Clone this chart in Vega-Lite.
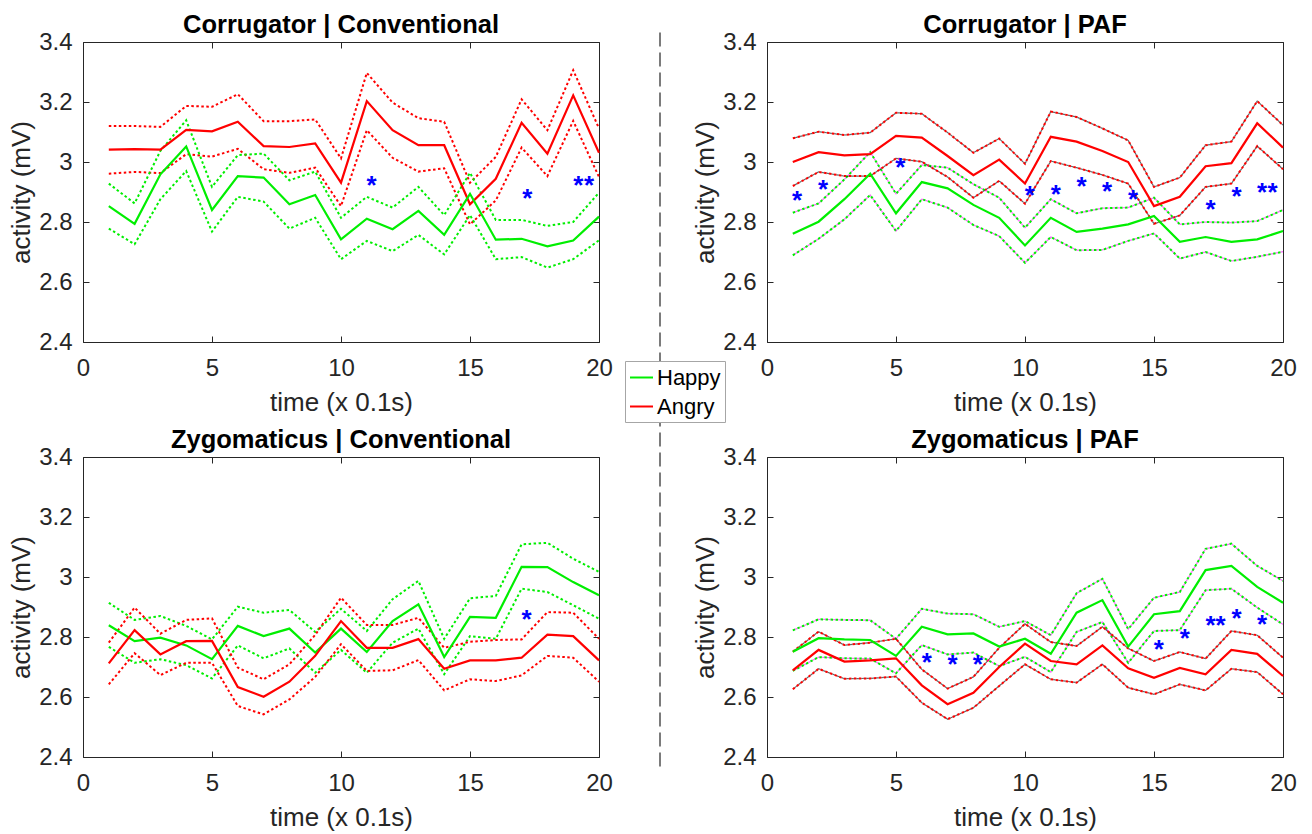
{
  "$schema": "https://vega.github.io/schema/vega-lite/v6.json",
  "padding": {"left": 8, "top": 12, "right": 5, "bottom": 5},
  "datasets": {
    "lines": [
      {"panel":"CC","group":"Angry","t":1,"mean":3.041,"upper":3.120,"lower":2.961},
      {"panel":"CC","group":"Angry","t":2,"mean":3.043,"upper":3.120,"lower":2.967},
      {"panel":"CC","group":"Angry","t":3,"mean":3.041,"upper":3.117,"lower":2.963},
      {"panel":"CC","group":"Angry","t":4,"mean":3.107,"upper":3.187,"lower":3.026},
      {"panel":"CC","group":"Angry","t":5,"mean":3.102,"upper":3.184,"lower":3.018},
      {"panel":"CC","group":"Angry","t":6,"mean":3.134,"upper":3.226,"lower":3.044},
      {"panel":"CC","group":"Angry","t":7,"mean":3.053,"upper":3.136,"lower":2.976},
      {"panel":"CC","group":"Angry","t":8,"mean":3.050,"upper":3.136,"lower":2.964},
      {"panel":"CC","group":"Angry","t":9,"mean":3.062,"upper":3.142,"lower":2.981},
      {"panel":"CC","group":"Angry","t":10,"mean":2.931,"upper":3.012,"lower":2.853},
      {"panel":"CC","group":"Angry","t":11,"mean":3.203,"upper":3.297,"lower":3.106},
      {"panel":"CC","group":"Angry","t":12,"mean":3.106,"upper":3.198,"lower":3.014},
      {"panel":"CC","group":"Angry","t":13,"mean":3.056,"upper":3.146,"lower":2.968},
      {"panel":"CC","group":"Angry","t":14,"mean":3.056,"upper":3.134,"lower":2.979},
      {"panel":"CC","group":"Angry","t":15,"mean":2.859,"upper":2.931,"lower":2.792},
      {"panel":"CC","group":"Angry","t":16,"mean":2.944,"upper":3.017,"lower":2.872},
      {"panel":"CC","group":"Angry","t":17,"mean":3.131,"upper":3.209,"lower":3.048},
      {"panel":"CC","group":"Angry","t":18,"mean":3.028,"upper":3.106,"lower":2.953},
      {"panel":"CC","group":"Angry","t":19,"mean":3.222,"upper":3.306,"lower":3.137},
      {"panel":"CC","group":"Angry","t":20,"mean":3.031,"upper":3.112,"lower":2.950},
      {"panel":"CC","group":"Happy","t":1,"mean":2.853,"upper":2.928,"lower":2.778},
      {"panel":"CC","group":"Happy","t":2,"mean":2.794,"upper":2.862,"lower":2.726},
      {"panel":"CC","group":"Happy","t":3,"mean":2.959,"upper":3.037,"lower":2.876},
      {"panel":"CC","group":"Happy","t":4,"mean":3.052,"upper":3.139,"lower":2.970},
      {"panel":"CC","group":"Happy","t":5,"mean":2.840,"upper":2.917,"lower":2.768},
      {"panel":"CC","group":"Happy","t":6,"mean":2.953,"upper":3.023,"lower":2.884},
      {"panel":"CC","group":"Happy","t":7,"mean":2.948,"upper":3.028,"lower":2.868},
      {"panel":"CC","group":"Happy","t":8,"mean":2.859,"upper":2.939,"lower":2.778},
      {"panel":"CC","group":"Happy","t":9,"mean":2.890,"upper":2.968,"lower":2.814},
      {"panel":"CC","group":"Happy","t":10,"mean":2.742,"upper":2.814,"lower":2.676},
      {"panel":"CC","group":"Happy","t":11,"mean":2.811,"upper":2.884,"lower":2.737},
      {"panel":"CC","group":"Happy","t":12,"mean":2.776,"upper":2.848,"lower":2.703},
      {"panel":"CC","group":"Happy","t":13,"mean":2.837,"upper":2.917,"lower":2.757},
      {"panel":"CC","group":"Happy","t":14,"mean":2.757,"upper":2.823,"lower":2.692},
      {"panel":"CC","group":"Happy","t":15,"mean":2.894,"upper":2.964,"lower":2.823},
      {"panel":"CC","group":"Happy","t":16,"mean":2.741,"upper":2.807,"lower":2.676},
      {"panel":"CC","group":"Happy","t":17,"mean":2.744,"upper":2.807,"lower":2.683},
      {"panel":"CC","group":"Happy","t":18,"mean":2.719,"upper":2.787,"lower":2.648},
      {"panel":"CC","group":"Happy","t":19,"mean":2.738,"upper":2.800,"lower":2.676},
      {"panel":"CC","group":"Happy","t":20,"mean":2.818,"upper":2.898,"lower":2.739},
      {"panel":"CP","group":"Angry","t":1,"mean":3.000,"upper":3.079,"lower":2.920},
      {"panel":"CP","group":"Angry","t":2,"mean":3.033,"upper":3.101,"lower":2.967},
      {"panel":"CP","group":"Angry","t":3,"mean":3.022,"upper":3.090,"lower":2.953},
      {"panel":"CP","group":"Angry","t":4,"mean":3.026,"upper":3.098,"lower":2.953},
      {"panel":"CP","group":"Angry","t":5,"mean":3.087,"upper":3.164,"lower":3.012},
      {"panel":"CP","group":"Angry","t":6,"mean":3.081,"upper":3.161,"lower":3.001},
      {"panel":"CP","group":"Angry","t":7,"mean":3.020,"upper":3.098,"lower":2.950},
      {"panel":"CP","group":"Angry","t":8,"mean":2.956,"upper":3.031,"lower":2.881},
      {"panel":"CP","group":"Angry","t":9,"mean":3.008,"upper":3.078,"lower":2.937},
      {"panel":"CP","group":"Angry","t":10,"mean":2.928,"upper":2.994,"lower":2.861},
      {"panel":"CP","group":"Angry","t":11,"mean":3.084,"upper":3.168,"lower":3.003},
      {"panel":"CP","group":"Angry","t":12,"mean":3.068,"upper":3.150,"lower":2.981},
      {"panel":"CP","group":"Angry","t":13,"mean":3.037,"upper":3.112,"lower":2.957},
      {"panel":"CP","group":"Angry","t":14,"mean":3.000,"upper":3.072,"lower":2.928},
      {"panel":"CP","group":"Angry","t":15,"mean":2.853,"upper":2.917,"lower":2.794},
      {"panel":"CP","group":"Angry","t":16,"mean":2.884,"upper":2.948,"lower":2.822},
      {"panel":"CP","group":"Angry","t":17,"mean":2.986,"upper":3.056,"lower":2.917},
      {"panel":"CP","group":"Angry","t":18,"mean":2.996,"upper":3.068,"lower":2.928},
      {"panel":"CP","group":"Angry","t":19,"mean":3.129,"upper":3.203,"lower":3.053},
      {"panel":"CP","group":"Angry","t":20,"mean":3.048,"upper":3.123,"lower":2.976},
      {"panel":"CP","group":"Happy","t":1,"mean":2.761,"upper":2.831,"lower":2.689},
      {"panel":"CP","group":"Happy","t":2,"mean":2.801,"upper":2.862,"lower":2.744},
      {"panel":"CP","group":"Happy","t":3,"mean":2.876,"upper":2.942,"lower":2.809},
      {"panel":"CP","group":"Happy","t":4,"mean":2.961,"upper":3.033,"lower":2.890},
      {"panel":"CP","group":"Happy","t":5,"mean":2.829,"upper":2.894,"lower":2.770},
      {"panel":"CP","group":"Happy","t":6,"mean":2.933,"upper":2.990,"lower":2.876},
      {"panel":"CP","group":"Happy","t":7,"mean":2.912,"upper":2.981,"lower":2.848},
      {"panel":"CP","group":"Happy","t":8,"mean":2.857,"upper":2.926,"lower":2.790},
      {"panel":"CP","group":"Happy","t":9,"mean":2.814,"upper":2.881,"lower":2.753},
      {"panel":"CP","group":"Happy","t":10,"mean":2.722,"upper":2.781,"lower":2.664},
      {"panel":"CP","group":"Happy","t":11,"mean":2.814,"upper":2.876,"lower":2.750},
      {"panel":"CP","group":"Happy","t":12,"mean":2.767,"upper":2.829,"lower":2.706},
      {"panel":"CP","group":"Happy","t":13,"mean":2.778,"upper":2.846,"lower":2.707},
      {"panel":"CP","group":"Happy","t":14,"mean":2.792,"upper":2.848,"lower":2.737},
      {"panel":"CP","group":"Happy","t":15,"mean":2.820,"upper":2.881,"lower":2.762},
      {"panel":"CP","group":"Happy","t":16,"mean":2.734,"upper":2.792,"lower":2.678},
      {"panel":"CP","group":"Happy","t":17,"mean":2.750,"upper":2.800,"lower":2.700},
      {"panel":"CP","group":"Happy","t":18,"mean":2.734,"upper":2.798,"lower":2.670},
      {"panel":"CP","group":"Happy","t":19,"mean":2.742,"upper":2.803,"lower":2.684},
      {"panel":"CP","group":"Happy","t":20,"mean":2.770,"upper":2.840,"lower":2.701},
      {"panel":"ZC","group":"Happy","t":1,"mean":2.839,"upper":2.914,"lower":2.767},
      {"panel":"ZC","group":"Happy","t":2,"mean":2.786,"upper":2.857,"lower":2.714},
      {"panel":"ZC","group":"Happy","t":3,"mean":2.798,"upper":2.870,"lower":2.726},
      {"panel":"ZC","group":"Happy","t":4,"mean":2.772,"upper":2.837,"lower":2.706},
      {"panel":"ZC","group":"Happy","t":5,"mean":2.726,"upper":2.792,"lower":2.662},
      {"panel":"ZC","group":"Happy","t":6,"mean":2.837,"upper":2.901,"lower":2.772},
      {"panel":"ZC","group":"Happy","t":7,"mean":2.803,"upper":2.881,"lower":2.729},
      {"panel":"ZC","group":"Happy","t":8,"mean":2.828,"upper":2.890,"lower":2.762},
      {"panel":"ZC","group":"Happy","t":9,"mean":2.748,"upper":2.817,"lower":2.681},
      {"panel":"ZC","group":"Happy","t":10,"mean":2.828,"upper":2.894,"lower":2.757},
      {"panel":"ZC","group":"Happy","t":11,"mean":2.750,"upper":2.820,"lower":2.681},
      {"panel":"ZC","group":"Happy","t":12,"mean":2.853,"upper":2.926,"lower":2.781},
      {"panel":"ZC","group":"Happy","t":13,"mean":2.909,"upper":2.987,"lower":2.828},
      {"panel":"ZC","group":"Happy","t":14,"mean":2.733,"upper":2.794,"lower":2.676},
      {"panel":"ZC","group":"Happy","t":15,"mean":2.867,"upper":2.929,"lower":2.803},
      {"panel":"ZC","group":"Happy","t":16,"mean":2.864,"upper":2.937,"lower":2.794},
      {"panel":"ZC","group":"Happy","t":17,"mean":3.034,"upper":3.109,"lower":2.961},
      {"panel":"ZC","group":"Happy","t":18,"mean":3.033,"upper":3.114,"lower":2.950},
      {"panel":"ZC","group":"Happy","t":19,"mean":2.983,"upper":3.061,"lower":2.906},
      {"panel":"ZC","group":"Happy","t":20,"mean":2.939,"upper":3.017,"lower":2.861},
      {"panel":"ZC","group":"Angry","t":1,"mean":2.712,"upper":2.781,"lower":2.642},
      {"panel":"ZC","group":"Angry","t":2,"mean":2.823,"upper":2.898,"lower":2.746},
      {"panel":"ZC","group":"Angry","t":3,"mean":2.742,"upper":2.811,"lower":2.673},
      {"panel":"ZC","group":"Angry","t":4,"mean":2.786,"upper":2.857,"lower":2.714},
      {"panel":"ZC","group":"Angry","t":5,"mean":2.787,"upper":2.862,"lower":2.714},
      {"panel":"ZC","group":"Angry","t":6,"mean":2.633,"upper":2.698,"lower":2.570},
      {"panel":"ZC","group":"Angry","t":7,"mean":2.601,"upper":2.659,"lower":2.542},
      {"panel":"ZC","group":"Angry","t":8,"mean":2.651,"upper":2.709,"lower":2.592},
      {"panel":"ZC","group":"Angry","t":9,"mean":2.737,"upper":2.807,"lower":2.667},
      {"panel":"ZC","group":"Angry","t":10,"mean":2.853,"upper":2.931,"lower":2.776},
      {"panel":"ZC","group":"Angry","t":11,"mean":2.764,"upper":2.840,"lower":2.687},
      {"panel":"ZC","group":"Angry","t":12,"mean":2.764,"upper":2.840,"lower":2.689},
      {"panel":"ZC","group":"Angry","t":13,"mean":2.793,"upper":2.864,"lower":2.723},
      {"panel":"ZC","group":"Angry","t":14,"mean":2.694,"upper":2.764,"lower":2.622},
      {"panel":"ZC","group":"Angry","t":15,"mean":2.722,"upper":2.784,"lower":2.659},
      {"panel":"ZC","group":"Angry","t":16,"mean":2.722,"upper":2.790,"lower":2.653},
      {"panel":"ZC","group":"Angry","t":17,"mean":2.731,"upper":2.792,"lower":2.672},
      {"panel":"ZC","group":"Angry","t":18,"mean":2.808,"upper":2.883,"lower":2.737},
      {"panel":"ZC","group":"Angry","t":19,"mean":2.803,"upper":2.881,"lower":2.731},
      {"panel":"ZC","group":"Angry","t":20,"mean":2.722,"upper":2.794,"lower":2.651},
      {"panel":"ZP","group":"Happy","t":1,"mean":2.751,"upper":2.822,"lower":2.687},
      {"panel":"ZP","group":"Happy","t":2,"mean":2.796,"upper":2.859,"lower":2.733},
      {"panel":"ZP","group":"Happy","t":3,"mean":2.792,"upper":2.857,"lower":2.729},
      {"panel":"ZP","group":"Happy","t":4,"mean":2.790,"upper":2.856,"lower":2.728},
      {"panel":"ZP","group":"Happy","t":5,"mean":2.737,"upper":2.794,"lower":2.679},
      {"panel":"ZP","group":"Happy","t":6,"mean":2.834,"upper":2.894,"lower":2.773},
      {"panel":"ZP","group":"Happy","t":7,"mean":2.809,"upper":2.878,"lower":2.742},
      {"panel":"ZP","group":"Happy","t":8,"mean":2.812,"upper":2.876,"lower":2.748},
      {"panel":"ZP","group":"Happy","t":9,"mean":2.768,"upper":2.834,"lower":2.703},
      {"panel":"ZP","group":"Happy","t":10,"mean":2.794,"upper":2.853,"lower":2.734},
      {"panel":"ZP","group":"Happy","t":11,"mean":2.744,"upper":2.806,"lower":2.683},
      {"panel":"ZP","group":"Happy","t":12,"mean":2.881,"upper":2.946,"lower":2.817},
      {"panel":"ZP","group":"Happy","t":13,"mean":2.923,"upper":2.994,"lower":2.850},
      {"panel":"ZP","group":"Happy","t":14,"mean":2.768,"upper":2.826,"lower":2.714},
      {"panel":"ZP","group":"Happy","t":15,"mean":2.876,"upper":2.931,"lower":2.820},
      {"panel":"ZP","group":"Happy","t":16,"mean":2.886,"upper":2.950,"lower":2.823},
      {"panel":"ZP","group":"Happy","t":17,"mean":3.023,"upper":3.094,"lower":2.956},
      {"panel":"ZP","group":"Happy","t":18,"mean":3.037,"upper":3.111,"lower":2.961},
      {"panel":"ZP","group":"Happy","t":19,"mean":2.967,"upper":3.037,"lower":2.898},
      {"panel":"ZP","group":"Happy","t":20,"mean":2.914,"upper":2.987,"lower":2.842},
      {"panel":"ZP","group":"Angry","t":1,"mean":2.689,"upper":2.751,"lower":2.626},
      {"panel":"ZP","group":"Angry","t":2,"mean":2.757,"upper":2.818,"lower":2.694},
      {"panel":"ZP","group":"Angry","t":3,"mean":2.718,"upper":2.773,"lower":2.661},
      {"panel":"ZP","group":"Angry","t":4,"mean":2.722,"upper":2.781,"lower":2.662},
      {"panel":"ZP","group":"Angry","t":5,"mean":2.729,"upper":2.794,"lower":2.668},
      {"panel":"ZP","group":"Angry","t":6,"mean":2.639,"upper":2.692,"lower":2.581},
      {"panel":"ZP","group":"Angry","t":7,"mean":2.576,"upper":2.628,"lower":2.526},
      {"panel":"ZP","group":"Angry","t":8,"mean":2.614,"upper":2.667,"lower":2.564},
      {"panel":"ZP","group":"Angry","t":9,"mean":2.700,"upper":2.764,"lower":2.637},
      {"panel":"ZP","group":"Angry","t":10,"mean":2.778,"upper":2.844,"lower":2.709},
      {"panel":"ZP","group":"Angry","t":11,"mean":2.720,"upper":2.783,"lower":2.659},
      {"panel":"ZP","group":"Angry","t":12,"mean":2.709,"upper":2.770,"lower":2.648},
      {"panel":"ZP","group":"Angry","t":13,"mean":2.772,"upper":2.834,"lower":2.709},
      {"panel":"ZP","group":"Angry","t":14,"mean":2.696,"upper":2.762,"lower":2.631},
      {"panel":"ZP","group":"Angry","t":15,"mean":2.664,"upper":2.720,"lower":2.609},
      {"panel":"ZP","group":"Angry","t":16,"mean":2.697,"upper":2.750,"lower":2.642},
      {"panel":"ZP","group":"Angry","t":17,"mean":2.676,"upper":2.728,"lower":2.622},
      {"panel":"ZP","group":"Angry","t":18,"mean":2.757,"upper":2.820,"lower":2.694},
      {"panel":"ZP","group":"Angry","t":19,"mean":2.744,"upper":2.806,"lower":2.683},
      {"panel":"ZP","group":"Angry","t":20,"mean":2.670,"upper":2.731,"lower":2.609}
    ],
    "stars": [
      {"panel":"CC","t":11.18,"v":2.944},
      {"panel":"CC","t":17.22,"v":2.900},
      {"panel":"CC","t":19.2,"v":2.942},
      {"panel":"CC","t":19.61,"v":2.942},
      {"panel":"CP","t":1.17,"v":2.894},
      {"panel":"CP","t":2.17,"v":2.931},
      {"panel":"CP","t":5.17,"v":3.003},
      {"panel":"CP","t":10.19,"v":2.911},
      {"panel":"CP","t":11.19,"v":2.914},
      {"panel":"CP","t":12.19,"v":2.940},
      {"panel":"CP","t":13.18,"v":2.922},
      {"panel":"CP","t":14.19,"v":2.896},
      {"panel":"CP","t":17.19,"v":2.862},
      {"panel":"CP","t":18.2,"v":2.906},
      {"panel":"CP","t":19.19,"v":2.920},
      {"panel":"CP","t":19.6,"v":2.920},
      {"panel":"ZC","t":17.19,"v":2.881},
      {"panel":"ZP","t":6.19,"v":2.737},
      {"panel":"ZP","t":7.19,"v":2.729},
      {"panel":"ZP","t":8.17,"v":2.729},
      {"panel":"ZP","t":15.19,"v":2.779},
      {"panel":"ZP","t":16.19,"v":2.818},
      {"panel":"ZP","t":17.19,"v":2.861},
      {"panel":"ZP","t":17.58,"v":2.861},
      {"panel":"ZP","t":18.2,"v":2.883},
      {"panel":"ZP","t":19.19,"v":2.863}
    ],
    "divider": [
      {"x": 0.3446, "top": 1.032, "bottom": -1.418}
    ]
  },
  "columns": 3,
  "bounds": "flush",
  "spacing": {"row": 115, "column": 10},
  "concat": [
    {
      "width": 516, "height": 300,
      "title": "Corrugator | Conventional",
      "resolve": {"axis": {"x": "independent", "y": "independent"}},
      "layer": [
        {
          "data": {"name": "lines"},
          "transform": [{"filter": "datum.panel === 'CC'"}, {"fold": ["upper", "lower"], "as": ["bound", "value"]}],
          "mark": {"type": "line", "strokeWidth": 2, "strokeDash": [2.5, 2.5]},
          "encoding": {
            "x": {"field": "t", "type": "quantitative", "scale": {"domain": [0, 20], "nice": false}, "axis": {"orient": "top", "values": [0, 5, 10, 15, 20], "tickSize": -6, "labels": false, "title": null, "minExtent": 0, "maxExtent": 0, "labelPadding": 0}},
            "y": {"field": "value", "type": "quantitative", "scale": {"domain": [2.4, 3.4], "nice": false, "zero": false}, "axis": {"orient": "right", "values": [2.4, 2.6, 2.8, 3, 3.2, 3.4], "tickSize": -6, "labels": false, "title": null, "minExtent": 0, "maxExtent": 0, "labelPadding": 0}},
            "color": {"field": "group", "type": "nominal", "title": null, "scale": {"domain": ["Happy", "Angry"], "range": ["#00ee00", "#ff0000"]}, "legend": {"orient": "none", "legendX": 542, "legendY": 319, "direction": "vertical"}},
            "detail": {"field": "bound"}
          }
        },
        {
          "data": {"name": "lines"},
          "transform": [{"filter": "datum.panel === 'CC'"}],
          "mark": {"type": "line", "strokeWidth": 2.2},
          "encoding": {
            "x": {"field": "t", "type": "quantitative", "axis": {"orient": "bottom", "values": [0, 5, 10, 15, 20], "tickSize": -6, "labelPadding": 20, "format": "~g", "title": "time (x 0.1s)", "titlePadding": 9}},
            "y": {"field": "mean", "type": "quantitative", "axis": {"orient": "left", "values": [2.4, 2.6, 2.8, 3, 3.2, 3.4], "tickSize": -6, "labelPadding": 17, "format": "~g", "title": "activity (mV)", "titlePadding": 4}},
            "color": {"field": "group", "type": "nominal", "title": null}
          }
        },
        {
          "data": {"name": "stars"},
          "transform": [{"filter": "datum.panel === 'CC'"}],
          "mark": {"type": "text", "text": "*", "color": "#0000ff", "fontSize": 26, "fontWeight": "bold", "font": "Liberation Sans", "baseline": "alphabetic", "dy": 15},
          "encoding": {
            "x": {"field": "t", "type": "quantitative", "axis": null},
            "y": {"field": "v", "type": "quantitative", "axis": null}
          }
        }
      ]
    },
    {
      "width": 148, "height": 300,
      "view": {"stroke": null},
      "data": {"name": "divider"},
      "mark": {"type": "rule", "clip": false, "strokeDash": [14, 6], "color": "#444444", "strokeWidth": 1.4},
      "encoding": {
        "x": {"field": "x", "type": "quantitative", "scale": {"domain": [0, 1], "nice": false}, "axis": null},
        "y": {"field": "top", "type": "quantitative", "scale": {"domain": [0, 1], "nice": false, "zero": false}, "axis": null},
        "y2": {"field": "bottom"}
      }
    },
    {
      "width": 516, "height": 300,
      "title": "Corrugator | PAF",
      "resolve": {"axis": {"x": "independent", "y": "independent"}},
      "layer": [
        {
          "data": {"name": "lines"},
          "transform": [{"filter": "datum.panel === 'CP'"}, {"fold": ["upper", "lower"], "as": ["bound", "value"]}],
          "mark": {"type": "line", "strokeWidth": 2, "strokeDash": [2.5, 2.5]},
          "encoding": {
            "x": {"field": "t", "type": "quantitative", "scale": {"domain": [0, 20], "nice": false}, "axis": {"orient": "top", "values": [0, 5, 10, 15, 20], "tickSize": -6, "labels": false, "title": null, "minExtent": 0, "maxExtent": 0, "labelPadding": 0}},
            "y": {"field": "value", "type": "quantitative", "scale": {"domain": [2.4, 3.4], "nice": false, "zero": false}, "axis": {"orient": "right", "values": [2.4, 2.6, 2.8, 3, 3.2, 3.4], "tickSize": -6, "labels": false, "title": null, "minExtent": 0, "maxExtent": 0, "labelPadding": 0}},
            "color": {"field": "group", "type": "nominal", "title": null},
            "detail": {"field": "bound"}
          }
        },
        {
          "data": {"name": "lines"},
          "transform": [{"filter": "datum.panel === 'CP'"}, {"fold": ["upper", "lower"], "as": ["bound", "value"]}],
          "mark": {"type": "line", "strokeWidth": 1.2, "strokeDash": [2.5, 2.5], "strokeDashOffset": 2.5, "opacity": 0.6},
          "encoding": {
            "x": {"field": "t", "type": "quantitative", "axis": null},
            "y": {"field": "value", "type": "quantitative", "axis": null},
            "stroke": {"field": "group", "type": "nominal", "legend": null, "scale": {"domain": ["Happy", "Angry"], "range": ["#ff00ff", "#000000"]}},
            "detail": {"field": "bound"}
          }
        },
        {
          "data": {"name": "lines"},
          "transform": [{"filter": "datum.panel === 'CP'"}],
          "mark": {"type": "line", "strokeWidth": 2.2},
          "encoding": {
            "x": {"field": "t", "type": "quantitative", "axis": {"orient": "bottom", "values": [0, 5, 10, 15, 20], "tickSize": -6, "labelPadding": 20, "format": "~g", "title": "time (x 0.1s)", "titlePadding": 9}},
            "y": {"field": "mean", "type": "quantitative", "axis": {"orient": "left", "values": [2.4, 2.6, 2.8, 3, 3.2, 3.4], "tickSize": -6, "labelPadding": 17, "format": "~g", "title": "activity (mV)", "titlePadding": 4}},
            "color": {"field": "group", "type": "nominal", "title": null}
          }
        },
        {
          "data": {"name": "stars"},
          "transform": [{"filter": "datum.panel === 'CP'"}],
          "mark": {"type": "text", "text": "*", "color": "#0000ff", "fontSize": 26, "fontWeight": "bold", "font": "Liberation Sans", "baseline": "alphabetic", "dy": 15},
          "encoding": {
            "x": {"field": "t", "type": "quantitative", "axis": null},
            "y": {"field": "v", "type": "quantitative", "axis": null}
          }
        }
      ]
    },
    {
      "width": 516, "height": 300,
      "title": "Zygomaticus | Conventional",
      "resolve": {"axis": {"x": "independent", "y": "independent"}},
      "layer": [
        {
          "data": {"name": "lines"},
          "transform": [{"filter": "datum.panel === 'ZC'"}, {"fold": ["upper", "lower"], "as": ["bound", "value"]}],
          "mark": {"type": "line", "strokeWidth": 2, "strokeDash": [2.5, 2.5]},
          "encoding": {
            "x": {"field": "t", "type": "quantitative", "scale": {"domain": [0, 20], "nice": false}, "axis": {"orient": "top", "values": [0, 5, 10, 15, 20], "tickSize": -6, "labels": false, "title": null, "minExtent": 0, "maxExtent": 0, "labelPadding": 0}},
            "y": {"field": "value", "type": "quantitative", "scale": {"domain": [2.4, 3.4], "nice": false, "zero": false}, "axis": {"orient": "right", "values": [2.4, 2.6, 2.8, 3, 3.2, 3.4], "tickSize": -6, "labels": false, "title": null, "minExtent": 0, "maxExtent": 0, "labelPadding": 0}},
            "color": {"field": "group", "type": "nominal", "title": null},
            "detail": {"field": "bound"}
          }
        },
        {
          "data": {"name": "lines"},
          "transform": [{"filter": "datum.panel === 'ZC'"}],
          "mark": {"type": "line", "strokeWidth": 2.2},
          "encoding": {
            "x": {"field": "t", "type": "quantitative", "axis": {"orient": "bottom", "values": [0, 5, 10, 15, 20], "tickSize": -6, "labelPadding": 20, "format": "~g", "title": "time (x 0.1s)", "titlePadding": 9}},
            "y": {"field": "mean", "type": "quantitative", "axis": {"orient": "left", "values": [2.4, 2.6, 2.8, 3, 3.2, 3.4], "tickSize": -6, "labelPadding": 17, "format": "~g", "title": "activity (mV)", "titlePadding": 4}},
            "color": {"field": "group", "type": "nominal", "title": null}
          }
        },
        {
          "data": {"name": "stars"},
          "transform": [{"filter": "datum.panel === 'ZC'"}],
          "mark": {"type": "text", "text": "*", "color": "#0000ff", "fontSize": 26, "fontWeight": "bold", "font": "Liberation Sans", "baseline": "alphabetic", "dy": 15},
          "encoding": {
            "x": {"field": "t", "type": "quantitative", "axis": null},
            "y": {"field": "v", "type": "quantitative", "axis": null}
          }
        }
      ]
    },
    {
      "width": 148, "height": 300,
      "view": {"stroke": null},
      "data": {"values": []},
      "mark": {"type": "point", "opacity": 0},
      "encoding": {}
    },
    {
      "width": 516, "height": 300,
      "title": "Zygomaticus | PAF",
      "resolve": {"axis": {"x": "independent", "y": "independent"}},
      "layer": [
        {
          "data": {"name": "lines"},
          "transform": [{"filter": "datum.panel === 'ZP'"}, {"fold": ["upper", "lower"], "as": ["bound", "value"]}],
          "mark": {"type": "line", "strokeWidth": 2, "strokeDash": [2.5, 2.5]},
          "encoding": {
            "x": {"field": "t", "type": "quantitative", "scale": {"domain": [0, 20], "nice": false}, "axis": {"orient": "top", "values": [0, 5, 10, 15, 20], "tickSize": -6, "labels": false, "title": null, "minExtent": 0, "maxExtent": 0, "labelPadding": 0}},
            "y": {"field": "value", "type": "quantitative", "scale": {"domain": [2.4, 3.4], "nice": false, "zero": false}, "axis": {"orient": "right", "values": [2.4, 2.6, 2.8, 3, 3.2, 3.4], "tickSize": -6, "labels": false, "title": null, "minExtent": 0, "maxExtent": 0, "labelPadding": 0}},
            "color": {"field": "group", "type": "nominal", "title": null},
            "detail": {"field": "bound"}
          }
        },
        {
          "data": {"name": "lines"},
          "transform": [{"filter": "datum.panel === 'ZP'"}, {"fold": ["upper", "lower"], "as": ["bound", "value"]}],
          "mark": {"type": "line", "strokeWidth": 1.2, "strokeDash": [2.5, 2.5], "strokeDashOffset": 2.5, "opacity": 0.6},
          "encoding": {
            "x": {"field": "t", "type": "quantitative", "axis": null},
            "y": {"field": "value", "type": "quantitative", "axis": null},
            "stroke": {"field": "group", "type": "nominal", "legend": null},
            "detail": {"field": "bound"}
          }
        },
        {
          "data": {"name": "lines"},
          "transform": [{"filter": "datum.panel === 'ZP'"}],
          "mark": {"type": "line", "strokeWidth": 2.2},
          "encoding": {
            "x": {"field": "t", "type": "quantitative", "axis": {"orient": "bottom", "values": [0, 5, 10, 15, 20], "tickSize": -6, "labelPadding": 20, "format": "~g", "title": "time (x 0.1s)", "titlePadding": 9}},
            "y": {"field": "mean", "type": "quantitative", "axis": {"orient": "left", "values": [2.4, 2.6, 2.8, 3, 3.2, 3.4], "tickSize": -6, "labelPadding": 17, "format": "~g", "title": "activity (mV)", "titlePadding": 4}},
            "color": {"field": "group", "type": "nominal", "title": null}
          }
        },
        {
          "data": {"name": "stars"},
          "transform": [{"filter": "datum.panel === 'ZP'"}],
          "mark": {"type": "text", "text": "*", "color": "#0000ff", "fontSize": 26, "fontWeight": "bold", "font": "Liberation Sans", "baseline": "alphabetic", "dy": 15},
          "encoding": {
            "x": {"field": "t", "type": "quantitative", "axis": null},
            "y": {"field": "v", "type": "quantitative", "axis": null}
          }
        }
      ]
    }
  ],
  "config": {
    "background": "#ffffff",
    "view": {"stroke": "#262626", "strokeWidth": 1},
    "axis": {"domain": false, "grid": false, "tickColor": "#262626", "tickWidth": 1, "labelFont": "Liberation Sans", "labelFontSize": 24, "labelColor": "#262626", "titleFont": "Liberation Sans", "titleFontSize": 26, "titleFontWeight": "normal", "titleColor": "#262626", "labelFlush": false, "labelOverlap": false},
    "title": {"font": "Liberation Sans", "fontSize": 25.5, "fontWeight": "bold", "color": "#000000", "baseline": "alphabetic", "offset": -8, "anchor": "middle"},
    "legend": {"symbolType": "stroke", "symbolStrokeWidth": 2, "symbolSize": 529, "symbolDash": [], "labelFont": "Liberation Sans", "labelFontSize": 22, "labelColor": "#000000", "fillColor": "#ffffff", "strokeColor": "#a6a6a6", "padding": 4, "rowPadding": 5, "labelOffset": 3}
  }
}
